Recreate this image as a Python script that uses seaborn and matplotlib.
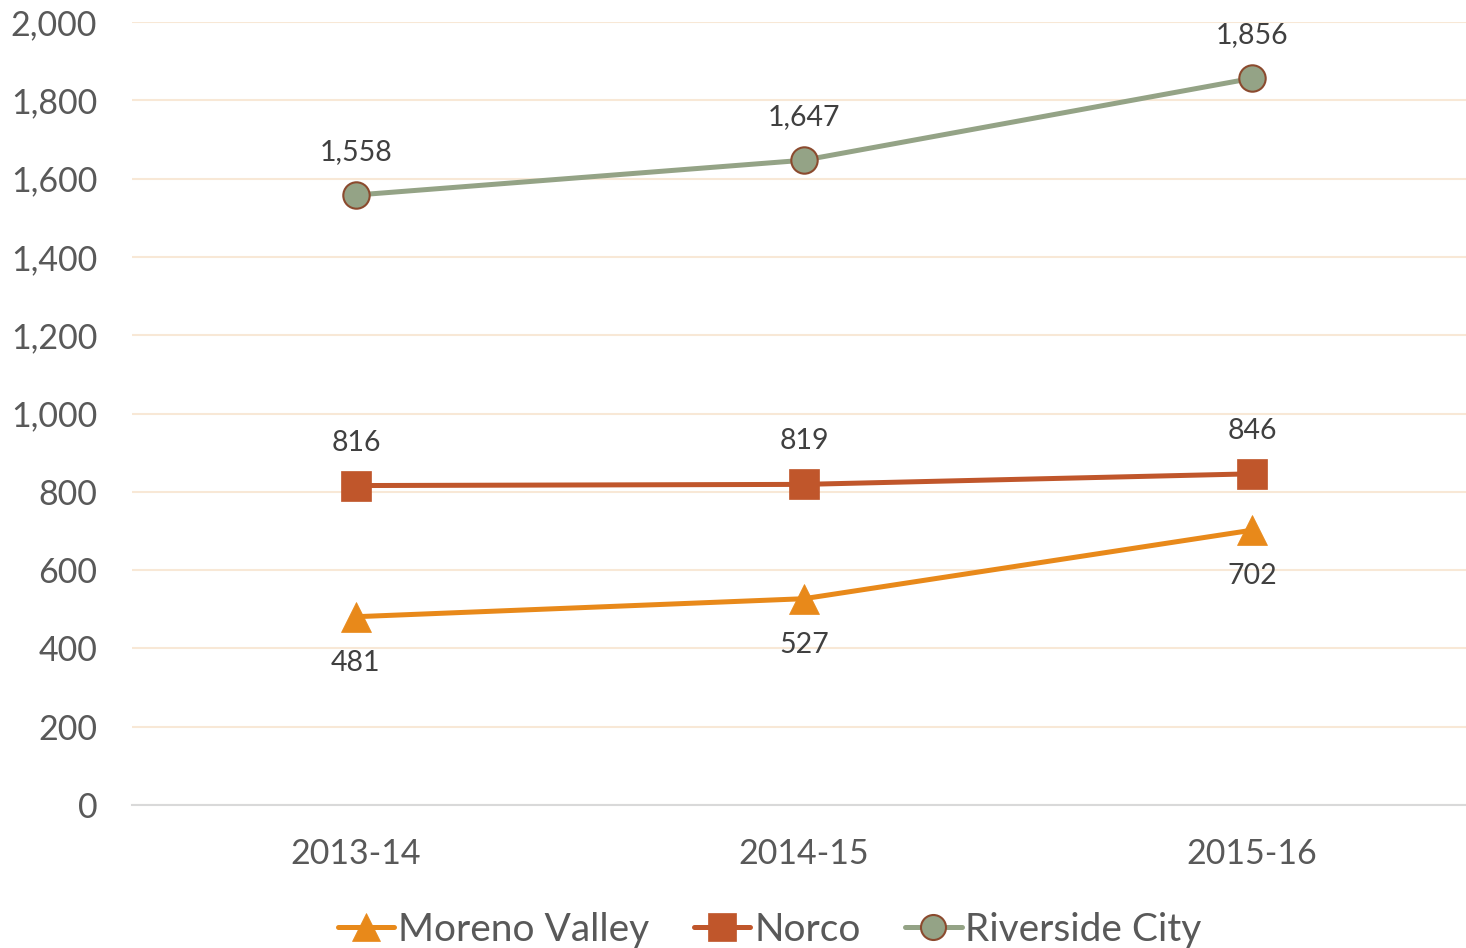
import matplotlib
matplotlib.use("Agg")
import matplotlib.pyplot as plt
import seaborn as sns
import pandas as pd

years = ["2013-14", "2014-15", "2015-16"]
moreno_valley = [481, 527, 702]
norco = [816, 819, 846]
riverside_city = [1558, 1647, 1856]

series_names = ["Moreno Valley", "Norco", "Riverside City"]
series_values = [moreno_valley, norco, riverside_city]
colors = {"Moreno Valley": "#E8891A", "Norco": "#C0562B", "Riverside City": "#94A386"}
markers = {"Moreno Valley": "^", "Norco": "s", "Riverside City": "o"}

rows = []
for name, vals in zip(series_names, series_values):
    for i, (y, v) in enumerate(zip(years, vals)):
        rows.append({"year": y, "x": i, "value": v, "series": name})
df = pd.DataFrame(rows)

sns.set_theme(style="white")
plt.rcParams['font.family'] = ['Lato', 'DejaVu Sans']

fig = plt.figure(figsize=(14.66, 9.48), dpi=100)
ax = fig.add_axes([0.090, 0.1508, 0.9168, 0.826])

sns.lineplot(data=df, x="x", y="value", hue="series", style="series",
             markers=markers, dashes=False, palette=colors, linewidth=3.6,
             markersize=21, ax=ax, legend=False)

for line, name in zip(ax.lines, series_names):
    if name == "Riverside City":
        line.set_markeredgecolor("#8B4A2E")
        line.set_markeredgewidth(1.5)
        line.set_markersize(19)
    else:
        line.set_markeredgecolor(colors[name])
        line.set_markeredgewidth(0.5)

ax.set_xlim(-0.5, 2.5)
ax.set_ylim(0, 2000)
ax.set_yticks(range(0, 2001, 200))
ax.set_yticklabels([f"{v:,}" for v in range(0, 2001, 200)])
ax.set_xticks(range(len(years)))
ax.set_xticklabels(years)
ax.tick_params(axis="both", labelsize=24.5, labelcolor="#595959", length=0)
ax.tick_params(axis="x", pad=24)
ax.tick_params(axis="y", pad=25)
ax.set_xlabel("")
ax.set_ylabel("")
ax.grid(axis="y", color="#F8E8D6", linewidth=1.5)
ax.set_axisbelow(True)
for s in ["top", "right", "left"]:
    ax.spines[s].set_visible(False)
ax.spines["bottom"].set_color("#D9D9D9")
ax.spines["bottom"].set_linewidth(1.5)

for name, vals in zip(series_names, series_values):
    for i, v in enumerate(vals):
        off = -33 if name == "Moreno Valley" else 31
        ax.annotate(f"{v:,}", (i, v), xytext=(0, off), textcoords="offset points",
                    ha="center", va="center", fontsize=20.5, color="#404040")

from matplotlib.lines import Line2D
handles = []
for name in series_names:
    h = Line2D([], [], color=colors[name], marker=markers[name], linewidth=3.6,
               markersize=20 if name != "Riverside City" else 18,
               markeredgecolor="#8B4A2E" if name == "Riverside City" else colors[name],
               markeredgewidth=1.5 if name == "Riverside City" else 0.5)
    handles.append(h)
fig.legend(handles, series_names, loc="center", bbox_to_anchor=(0.525, 0.019),
           ncol=3, frameon=False, fontsize=28, labelcolor="#595959",
           handlelength=1.45, handletextpad=0.1, columnspacing=1.15)

fig.savefig("out.png", dpi=100)
